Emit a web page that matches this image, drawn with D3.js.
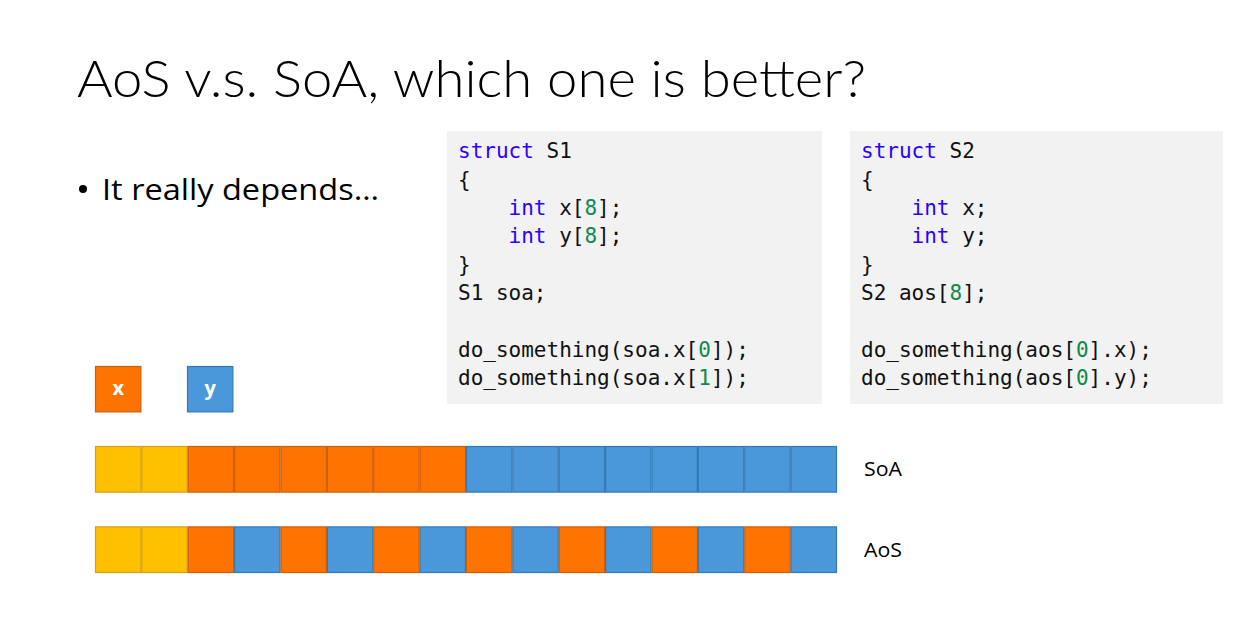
<!DOCTYPE html>
<html>
<head>
<meta charset="utf-8">
<script src="https://cdn.jsdelivr.net/npm/d3@7"></script>
<style>
  html, body { margin: 0; padding: 0; background: #fff; }
  svg { display: block; }
</style>
</head>
<body>
<div id="app"></div>
<script>
const title = "AoS v.s. SoA, which one is better?";
const bullet = "It really depends…";

// memory layouts, one entry per slot
const rows = ["SoA", "AoS"];
const soaSlots = ["pad", "pad", "x", "x", "x", "x", "x", "x", "y", "y", "y", "y", "y", "y", "y", "y"];
const aosSlots = ["pad", "pad", "x", "y", "x", "y", "x", "y", "x", "y", "x", "y", "x", "y", "x", "y"];
const legendKeys = ["x", "y"];

// code listings: each line is a list of [text, kind]
const codeS1 = [
  [["struct", "kw"], [" S1", "txt"]],
  [["{", "txt"]],
  [["    ", "txt"], ["int", "kw"], [" x[", "txt"], ["8", "num"], ["];", "txt"]],
  [["    ", "txt"], ["int", "kw"], [" y[", "txt"], ["8", "num"], ["];", "txt"]],
  [["}", "txt"]],
  [["S1 soa;", "txt"]],
  [["", "txt"]],
  [["do_something(soa.x[", "txt"], ["0", "num"], ["]);", "txt"]],
  [["do_something(soa.x[", "txt"], ["1", "num"], ["]);", "txt"]]
];
const codeS2 = [
  [["struct", "kw"], [" S2", "txt"]],
  [["{", "txt"]],
  [["    ", "txt"], ["int", "kw"], [" x;", "txt"]],
  [["    ", "txt"], ["int", "kw"], [" y;", "txt"]],
  [["}", "txt"]],
  [["S2 aos[", "txt"], ["8", "num"], ["];", "txt"]],
  [["", "txt"]],
  [["do_something(aos[", "txt"], ["0", "num"], ["].x);", "txt"]],
  [["do_something(aos[", "txt"], ["0", "num"], ["].y);", "txt"]]
];

const width = 1241, height = 640;
const sans = "Lato, 'Open Sans', sans-serif";
const body = "'Open Sans', 'Noto Sans', sans-serif";
const mono = "'DejaVu Sans Mono', 'Liberation Mono', monospace";

const fill = { pad: "#FFC000", x: "#FF7400", y: "#4A98D9" };
const edge = { pad: "#D4A017", x: "#C8600E", y: "#3578B4" };
const codeColor = { kw: "#2B00FF", num: "#0E8A4E", txt: "#111" };

const svg = d3.select("#app").append("svg")
    .attr("width", width)
    .attr("height", height)
    .attr("viewBox", [0, 0, width, height]);

// title
svg.append("text")
    .attr("x", 77)
    .attr("y", 97)
    .attr("font-family", sans)
    .attr("font-weight", 300)
    .attr("font-size", 52)
    .attr("textLength", 789)
    .attr("lengthAdjust", "spacingAndGlyphs")
    .attr("fill", "#000")
    .text(title);

// bullet
svg.append("circle")
    .attr("cx", 83).attr("cy", 189).attr("r", 4)
    .attr("fill", "#000");
svg.append("text")
    .attr("x", 102)
    .attr("y", 200)
    .attr("font-family", body)
    .attr("font-size", 29)
    .attr("textLength", 277)
    .attr("lengthAdjust", "spacingAndGlyphs")
    .text(bullet);

// code boxes
function codeBox(lines, x0, x1) {
  const g = svg.append("g");
  g.append("rect")
      .attr("x", x0).attr("y", 131)
      .attr("width", x1 - x0).attr("height", 273)
      .attr("fill", "#F2F2F2");
  const line = d3.scaleLinear().domain([0, 8]).range([158.3, 385]);
  g.selectAll("text")
    .data(lines)
    .join("text")
      .attr("x", x0 + 11)
      .attr("y", (d, i) => line(i))
      .attr("font-family", mono)
      .attr("font-size", 21)
      .attr("xml:space", "preserve")
      .style("white-space", "pre")
    .selectAll("tspan")
    .data(d => d)
    .join("tspan")
      .attr("fill", d => codeColor[d[1]])
      .text(d => d[0]);
}
codeBox(codeS1, 447, 822);
codeBox(codeS2, 850, 1223);

// memory rows
const x = d3.scaleBand().domain(d3.range(soaSlots.length)).range([95, 837]);
const y = d3.scaleBand().domain(rows).range([446, 573]).paddingInner(0.42);
const layout = { SoA: soaSlots, AoS: aosSlots };

const rowG = svg.selectAll("g.row")
  .data(rows)
  .join("g")
    .attr("class", "row")
    .attr("transform", d => `translate(0,${y(d)})`);

rowG.selectAll("rect")
  .data(d => layout[d])
  .join("rect")
    .attr("x", (d, i) => x(i) + 0.5)
    .attr("y", 0.5)
    .attr("width", x.bandwidth() - 1)
    .attr("height", y.bandwidth() - 1)
    .attr("fill", d => fill[d])
    .attr("stroke", d => edge[d])
    .attr("stroke-width", 1.2);

rowG.append("text")
    .attr("x", 864)
    .attr("y", y.bandwidth() / 2)
    .attr("dy", "0.35em")
    .attr("font-family", body)
    .attr("font-size", 20)
    .attr("textLength", 38)
    .attr("lengthAdjust", "spacingAndGlyphs")
    .text(d => d);

// legend
const lx = d3.scalePoint().domain(legendKeys).range([95, 187]);
const leg = svg.selectAll("g.leg")
  .data(legendKeys)
  .join("g")
    .attr("class", "leg")
    .attr("transform", d => `translate(${lx(d)},366)`);
leg.append("rect")
    .attr("x", 0.5).attr("y", 0.5)
    .attr("width", x.bandwidth() - 1)
    .attr("height", x.bandwidth() - 1)
    .attr("fill", d => fill[d])
    .attr("stroke", d => edge[d])
    .attr("stroke-width", 1.2);
leg.append("text")
    .attr("x", x.bandwidth() / 2)
    .attr("y", x.bandwidth() / 2)
    .attr("dy", "0.3em")
    .attr("text-anchor", "middle")
    .attr("font-family", body)
    .attr("font-weight", 700)
    .attr("font-size", 20)
    .attr("fill", "#fff")
    .text(d => d);
</script>
</body>
</html>
